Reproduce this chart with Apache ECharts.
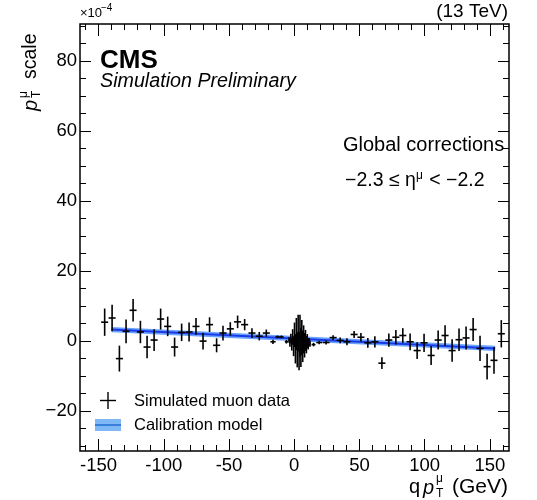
<!DOCTYPE html>
<html>
<head>
<meta charset="utf-8">
<script src="https://cdn.jsdelivr.net/npm/echarts@6/dist/echarts.min.js"></script>
<style>html,body{margin:0;padding:0;background:#fff}#c{width:537px;height:500px}</style>
</head>
<body>
<div id="c"></div>
<script>
// ---- data (values in units of 1e-4) ----
var xValues = [
  -145.3,-139.6,-134.0,-128.9,-123.5,-117.9,-112.8,-107.4,-102.4,-97.0,
  -91.7,-86.3,-80.6,-75.3,-69.9,-64.9,-59.5,-54.6,-49.0,-43.4,
  -38.0,-32.4,-26.8,-21.4,-16.3,-12.8,-9.8,-6.0,
  -4.0,-3.3,-2.6,-1.9,-1.2,-0.5,0.2,0.9,1.6,2.3,3.0,3.7,4.4,5.1,5.8,6.5,7.2,7.9,8.6,9.3,10.0,10.7,11.4,12.1,
  14.8,19.1,24.4,29.8,35.2,40.4,45.9,51.1,56.4,61.8,
  67.2,72.5,77.9,83.2,88.8,94.2,99.5,104.9,110.3,115.6,
  121.0,126.3,131.7,137.1,142.4,147.8,153.1,158.7
];
var yValues = [
  5.4,6.6,-5.0,2.8,8.8,2.6,-1.7,0.3,6.3,4.2,
  -1.7,2.5,2.6,4.2,0.0,4.7,-1.2,2.3,3.5,5.5,
  4.7,2.3,1.4,2.3,-0.2,1.2,1.2,-0.2,
  0.3,-0.6,0.8,-1.0,1.2,-1.5,1.8,-2.2,2.0,-2.5,2.3,-2.8,1.5,-1.8,1.0,-1.5,0.5,-1.2,0.2,-1.0,0.0,-0.8,-0.3,-0.7,
  -1.0,-0.4,-0.4,1.0,0.2,-0.2,1.9,1.1,-0.5,-0.2,
  -6.3,0.3,1.1,1.6,-0.2,-2.7,-0.5,-4.1,0.3,1.6,
  -2.7,0.4,0.9,3.3,-2.1,-7.3,-5.5,2.1
];
var yErrors = [
  3.9,3.8,3.7,3.4,3.2,3.2,3.2,3.1,3.0,2.8,
  2.7,2.5,2.7,2.4,2.4,2.1,2.0,2.1,1.9,1.8,
  1.6,1.4,1.2,1.0,0.6,0.4,0.4,0.5,
  0.8,1.0,1.3,1.7,2.2,2.8,3.5,4.2,4.6,5.0,5.2,5.5,6.0,5.6,5.0,4.5,4.0,3.5,3.0,2.5,2.0,1.6,1.2,0.9,
  0.5,0.5,0.6,0.7,0.8,1.0,1.0,1.2,1.4,1.6,
  1.7,1.9,2.1,2.1,2.4,2.4,2.6,2.7,2.7,2.9,
  3.2,3.2,3.3,3.3,3.6,3.7,3.8,3.9
];
var xHalfWidths = [
  2.7,2.7,2.7,2.7,2.7,2.7,2.7,2.7,2.7,2.7,
  2.7,2.7,2.7,2.7,2.7,2.7,2.7,2.7,2.7,2.7,
  2.7,2.7,2.7,2.7,2.0,1.6,1.6,1.2,
  0.35,0.35,0.35,0.35,0.35,0.35,0.35,0.35,0.35,0.35,0.35,0.35,0.35,0.35,0.35,0.35,0.35,0.35,0.35,0.35,0.35,0.35,0.35,0.35,
  1.5,2.2,2.7,2.7,2.7,2.7,2.7,2.7,2.7,2.7,
  2.7,2.7,2.7,2.7,2.7,2.7,2.7,2.7,2.7,2.7,
  2.7,2.7,2.7,2.7,2.7,2.7,2.7,2.7
];
// calibration model
var modelX = [-140, 154];
var modelY = [3.3, -2.1];
var modelHalfBand = [0.75, 0.75];
// axis ticks
var xMajorTicks = [-150,-100,-50,0,50,100,150];
var xMinorTicks = [-160,-150,-140,-130,-120,-110,-100,-90,-80,-70,-60,-50,-40,-30,-20,-10,0,10,20,30,40,50,60,70,80,90,100,110,120,130,140,150,160];
var yMajorTicks = [-20,0,20,40,60,80];
var yMinorTicks = [-30,-25,-20,-15,-10,-5,0,5,10,15,20,25,30,35,40,45,50,55,60,65,70,75,80,85,90];
var xMin = -164.2, xMax = 164.6, yMin = -31.4, yMax = 90.6;

var FONT = '"Liberation Sans", Arial, Helvetica, sans-serif';
var chart = echarts.init(document.getElementById('c'), null, {renderer: 'canvas'});

function xAx(pos, ticks, len, labels) {
  return {
    type: 'value', position: pos, min: xMin, max: xMax,
    axisLine: {show: false, onZero: false}, splitLine: {show: false},
    axisTick: {show: true, inside: true, length: len, customValues: ticks, lineStyle: {color: '#000', width: 1}},
    axisLabel: labels ? {show: true, customValues: xMajorTicks, fontSize: 18.5, color: '#000', fontFamily: FONT, margin: 5} : {show: false}
  };
}
function yAx(pos, ticks, len, labels) {
  return {
    type: 'value', position: pos, min: yMin, max: yMax,
    axisLine: {show: false, onZero: false}, splitLine: {show: false},
    axisTick: {show: true, inside: true, length: len, customValues: ticks, lineStyle: {color: '#000', width: 1}},
    axisLabel: labels ? {show: true, customValues: yMajorTicks, fontSize: 18.5, color: '#000', fontFamily: FONT, margin: 3,
      formatter: function (v) { return v < 0 ? '\u2212' + Math.abs(v) : String(v); }} : {show: false}
  };
}

var pts = xValues.map(function (x, i) { return [x, yValues[i], yErrors[i], xHalfWidths[i]]; });

var option = {
  animation: false,
  grid: {left: 80, right: 28, top: 24, bottom: 49, show: true, borderColor: '#000', borderWidth: 1.5, backgroundColor: 'transparent', outerBoundsMode: 'none'},
  xAxis: [xAx('bottom', xMajorTicks, 12, true), xAx('bottom', xMinorTicks, 6, false), xAx('top', xMajorTicks, 12, false), xAx('top', xMinorTicks, 6, false)],
  yAxis: [yAx('left', yMajorTicks, 11, true), yAx('left', yMinorTicks, 6, false), yAx('right', yMajorTicks, 11, false), yAx('right', yMinorTicks, 6, false)],
  series: [
    {
      type: 'custom', name: 'Calibration model', xAxisIndex: 0, yAxisIndex: 0, z: 3,
      data: [[modelX[0], modelY[0]]],
      renderItem: function (params, api) {
        var upper = [], lower = [], mid = [];
        for (var i = 0; i < modelX.length; i++) {
          upper.push(api.coord([modelX[i], modelY[i] + modelHalfBand[i]]));
          mid.push(api.coord([modelX[i], modelY[i]]));
        }
        for (var j = modelX.length - 1; j >= 0; j--) {
          lower.push(api.coord([modelX[j], modelY[j] - modelHalfBand[j]]));
        }
        return {type: 'group', children: [
          {type: 'polygon', shape: {points: upper.concat(lower)}, style: {fill: 'rgba(70,140,255,0.8)'}},
          {type: 'polyline', shape: {points: mid}, style: {stroke: '#1a3ae6', lineWidth: 2, fill: null}}
        ]};
      }
    },
    {
      type: 'custom', name: 'Simulated muon data', xAxisIndex: 0, yAxisIndex: 0, z: 4,
      data: pts,
      encode: {x: 0, y: 1},
      renderItem: function (params, api) {
        var x = api.value(0), y = api.value(1), ey = api.value(2), ex = api.value(3);
        var c = api.coord([x, y]);
        var t = api.coord([x, y + ey]);
        var b = api.coord([x, y - ey]);
        var l = api.coord([x - ex, y]);
        var r = api.coord([x + ex, y]);
        return {type: 'group', children: [
          {type: 'line', shape: {x1: c[0], y1: t[1], x2: c[0], y2: b[1]}, style: {stroke: '#000', lineWidth: 1.6}},
          {type: 'line', shape: {x1: l[0], y1: c[1], x2: r[0], y2: c[1]}, style: {stroke: '#000', lineWidth: 1.6}}
        ]};
      }
    }
  ],
  graphic: [
    {type: 'text', left: 80, top: 7, style: {text: '\u00d710', fontSize: 13, fontFamily: FONT, fill: '#000'}},
    {type: 'text', left: 101, top: 3, style: {text: '\u22124', fontSize: 10, fontFamily: FONT, fill: '#000'}},
    {type: 'text', right: 29, top: 2, style: {text: '(13 TeV)', fontSize: 19, fontFamily: FONT, fill: '#000'}},
    {type: 'text', x: 100, y: 61, style: {text: 'CMS', fontSize: 26, fontWeight: 'bold', fontFamily: FONT, fill: '#000', textVerticalAlign: 'middle'}},
    {type: 'text', x: 100, y: 82, style: {text: 'Simulation Preliminary', fontSize: 19.7, fontStyle: 'italic', fontFamily: FONT, fill: '#000', textVerticalAlign: 'middle'}},
    {type: 'text', x: 343, y: 145, style: {text: 'Global corrections', fontSize: 20, fontFamily: FONT, fill: '#000', textVerticalAlign: 'middle'}},
    {type: 'text', x: 345, y: 181, style: {text: '\u22122.3 \u2264 \u03b7{s|\u03bc} < \u22122.2', fontSize: 19.5, fontFamily: FONT, fill: '#000', textVerticalAlign: 'middle',
      rich: {s: {fontSize: 12, fontFamily: FONT, padding: [0, 1, 11, 0]}}}},
    // y axis title
    {type: 'text', x: 31, y: 111, rotation: Math.PI / 2, style: {text: 'p', fontSize: 20, fontStyle: 'italic', fontFamily: FONT, fill: '#000', textVerticalAlign: 'middle'}},
    {type: 'text', x: 24, y: 98, rotation: Math.PI / 2, style: {text: '\u03bc', fontSize: 12, fontFamily: FONT, fill: '#000', textVerticalAlign: 'middle'}},
    {type: 'text', x: 37, y: 98, rotation: Math.PI / 2, style: {text: 'T', fontSize: 12, fontFamily: FONT, fill: '#000', textVerticalAlign: 'middle'}},
    {type: 'text', x: 31, y: 79, rotation: Math.PI / 2, style: {text: 'scale', fontSize: 19.5, fontFamily: FONT, fill: '#000', textVerticalAlign: 'middle'}},
    // x axis title
    {type: 'text', x: 409, y: 487, style: {text: 'q', fontSize: 20, fontFamily: FONT, fill: '#000', textVerticalAlign: 'middle'}},
    {type: 'text', x: 423, y: 488, style: {text: 'p', fontSize: 20, fontStyle: 'italic', fontFamily: FONT, fill: '#000', textVerticalAlign: 'middle'}},
    {type: 'text', x: 436, y: 479, style: {text: '\u03bc', fontSize: 12, fontFamily: FONT, fill: '#000', textVerticalAlign: 'middle'}},
    {type: 'text', x: 436, y: 494, style: {text: 'T', fontSize: 12, fontFamily: FONT, fill: '#000', textVerticalAlign: 'middle'}},
    {type: 'text', x: 508, y: 487, style: {text: '(GeV)', fontSize: 21, fontFamily: FONT, fill: '#000', textAlign: 'right', textVerticalAlign: 'middle'}},
    // legend
    {type: 'line', shape: {x1: 108, y1: 392, x2: 108, y2: 409}, style: {stroke: '#000', lineWidth: 1.4}},
    {type: 'line', shape: {x1: 100, y1: 400.5, x2: 116, y2: 400.5}, style: {stroke: '#000', lineWidth: 1.4}},
    {type: 'text', x: 134, y: 401, style: {text: 'Simulated muon data', fontSize: 16.5, fontFamily: FONT, fill: '#000', textVerticalAlign: 'middle'}},
    {type: 'rect', shape: {x: 95, y: 419, width: 26, height: 12}, style: {fill: '#7fb8f4'}},
    {type: 'line', shape: {x1: 95, y1: 425, x2: 121, y2: 425}, style: {stroke: '#3a7fd9', lineWidth: 2}},
    {type: 'text', x: 134, y: 425, style: {text: 'Calibration model', fontSize: 16.5, fontFamily: FONT, fill: '#000', textVerticalAlign: 'middle'}}
  ]
};
chart.setOption(option);
</script>
</body>
</html>
